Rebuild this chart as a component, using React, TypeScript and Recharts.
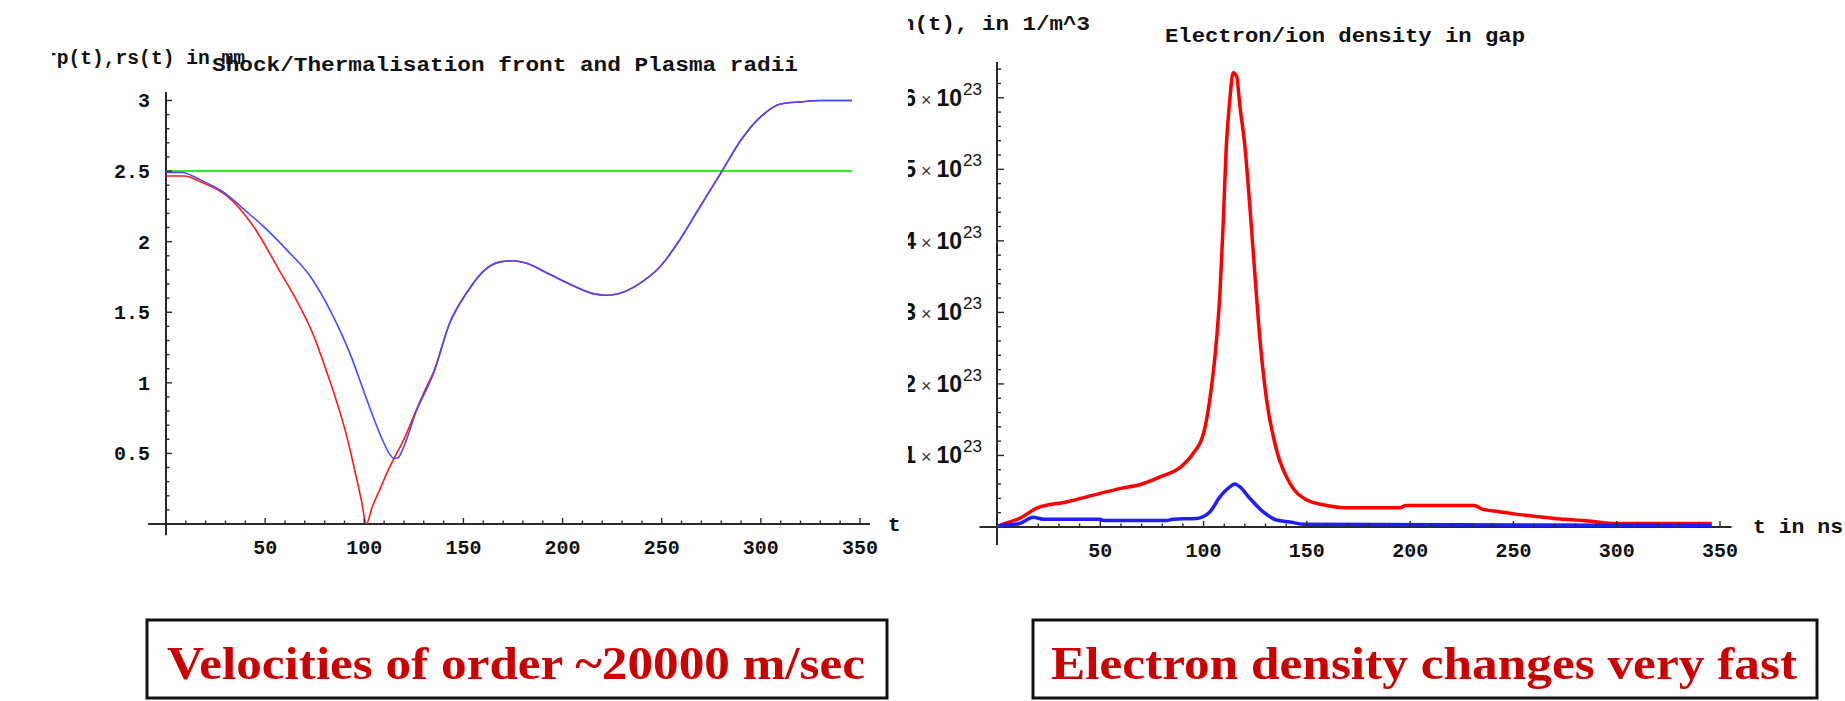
import React from 'react';
import { LineChart, Line, XAxis, YAxis, ReferenceLine } from 'recharts';

// ---- left panel: shock / thermalisation front and plasma radius (mm) vs t (ns)
const shockT = [0, 9, 18, 31, 44, 58, 66, 74, 80, 86, 91, 96, 98.5, 101, 104, 108, 112, 115, 120, 126, 130, 135, 143, 152, 160, 168, 175, 181, 194, 205, 216, 222, 229, 239, 249, 259, 269, 280, 290, 300, 310, 320, 330, 346];
const shockR = [2.465, 2.465, 2.42, 2.32, 2.11, 1.775, 1.58, 1.35, 1.12, 0.87, 0.63, 0.33, 0.17, 0.0, 0.12, 0.25, 0.38, 0.465, 0.6, 0.8, 0.93, 1.08, 1.42, 1.645, 1.79, 1.855, 1.865, 1.85, 1.765, 1.69, 1.63, 1.62, 1.635, 1.705, 1.82, 2.01, 2.24, 2.49, 2.72, 2.885, 2.975, 2.99, 3.0, 3.0];

const plasmaT = [0, 8, 17, 29, 40, 49, 61, 73, 84, 93, 100, 105, 110, 113, 115, 117, 120, 126, 135, 143, 152, 160, 168, 175, 181, 194, 205, 216, 222, 229, 239, 249, 259, 269, 280, 290, 300, 310, 320, 330, 346];
const plasmaR = [2.49, 2.49, 2.44, 2.35, 2.22, 2.11, 1.94, 1.75, 1.48, 1.2, 0.93, 0.74, 0.57, 0.49, 0.465, 0.47, 0.55, 0.79, 1.07, 1.42, 1.645, 1.79, 1.855, 1.865, 1.85, 1.765, 1.69, 1.63, 1.62, 1.635, 1.705, 1.82, 2.01, 2.24, 2.49, 2.72, 2.885, 2.975, 2.99, 3.0, 3.0];

const gapT = [0, 346];
const gapR = [2.5, 2.5];

// ---- right panel: densities in units of 10^23 m^-3
const electronT = [0, 2, 11, 19, 34, 50, 60, 69, 79, 89, 95, 100, 103, 105.5, 108, 109.5, 111, 112.7, 114.3, 116, 117.6, 120, 122.4, 124.8, 127.3, 130.5, 135.3, 141.8, 149.8, 158, 168, 195, 198, 231, 235, 243, 251, 259, 267, 275, 285, 300, 346];
const electronN = [0, 0.03, 0.12, 0.26, 0.354, 0.47, 0.54, 0.59, 0.7, 0.84, 1.03, 1.31, 1.78, 2.38, 3.31, 4.25, 5.32, 5.97, 6.35, 6.3, 5.88, 5.32, 4.48, 3.55, 2.62, 1.78, 1.08, 0.61, 0.38, 0.31, 0.27, 0.27, 0.3, 0.3, 0.25, 0.214, 0.18, 0.154, 0.13, 0.107, 0.088, 0.05, 0.05];

const ionT = [0, 2, 11, 17.6, 22.4, 50, 51.4, 82, 85.3, 96.6, 103, 107.9, 112.7, 115.1, 117.6, 122.4, 128.9, 135.3, 141.8, 148.2, 346];
const ionN = [0, 0.02, 0.05, 0.135, 0.11, 0.11, 0.09, 0.09, 0.11, 0.12, 0.21, 0.42, 0.56, 0.6, 0.56, 0.4, 0.21, 0.098, 0.07, 0.04, 0.02];

// tick positions (minor every 10 ns / 0.1 mm / 0.2e23, labelled ones picked in the renderers)
const tTicks = Array.from({ length: 35 }, (_, i) => (i + 1) * 10);
const rTicks = Array.from({ length: 30 }, (_, i) => (i + 1) / 10);
const nTicks = Array.from({ length: 32 }, (_, i) => ((i + 1) * 2) / 10);

const MONO = '"Liberation Mono", "DejaVu Sans Mono", monospace';
const SANS = '"Liberation Sans", Arial, sans-serif';
const SERIF = '"Liberation Serif", "Times New Roman", serif';
const AXIS = '#2a2a2a';

const pts = (ts: number[], vs: number[]) => ts.map((t, i) => ({ t, v: vs[i] }));

const TimeTick = (props: any) => {
  const { x, y, payload } = props;
  const major = payload.value % 50 === 0;
  return (
    <g>
      <line x1={x} x2={x} y1={y} y2={y - (major ? 6 : 3.5)} stroke={AXIS} strokeWidth={1.4} />
      {major && (
        <text x={x} y={y + 30} textAnchor="middle" fontFamily={MONO} fontWeight="bold" fontSize={20} fill="#111">
          {payload.value}
        </text>
      )}
    </g>
  );
};

const RadiusTick = (props: any) => {
  const { x, y, payload } = props;
  const v = payload.value;
  const major = Math.abs(v * 2 - Math.round(v * 2)) < 1e-6;
  return (
    <g>
      <line x1={x} x2={x + (major ? 6 : 3.5)} y1={y} y2={y} stroke={AXIS} strokeWidth={1.4} />
      {major && (
        <text x={x - 16} y={y + 7} textAnchor="end" fontFamily={MONO} fontWeight="bold" fontSize={20} fill="#111">
          {String(v)}
        </text>
      )}
    </g>
  );
};

const DensityTick = (props: any) => {
  const { x, y, payload } = props;
  const v = payload.value;
  const major = Math.abs(v - Math.round(v)) < 1e-6;
  return (
    <g>
      <line x1={x} x2={x + (major ? 7 : 4)} y1={y} y2={y} stroke={AXIS} strokeWidth={1.4} />
      {major && (
        <text x={x - 15} y={y + 8} textAnchor="end" fontFamily={SANS} fill="#111">
          <tspan fontWeight="bold" fontSize={23}>{Math.round(v)}</tspan>
          <tspan fontSize={18} dx={5} fill="#333">×</tspan>
          <tspan fontWeight="bold" fontSize={23} dx={5}>10</tspan>
          <tspan fontSize={17} dx={1} dy={-11}>23</tspan>
        </text>
      )}
    </g>
  );
};

const textStyle = { fontFamily: MONO, fontWeight: 'bold' as const, fontSize: 20, fill: '#111' };

function RadiiPanel() {
  return (
    <div style={{ position: 'absolute', left: 52, top: 0, width: 848, height: 600, overflow: 'hidden' }}>
      <div style={{ position: 'absolute', left: -52, top: 0 }}>
        <LineChart width={900} height={600} margin={{ top: 92, right: 40, bottom: 75, left: 165 }}>
          <XAxis type="number" dataKey="t" domain={[0, 350]} ticks={tTicks} interval={0} allowDataOverflow
            height={1} axisLine={false} tickLine={false} tickSize={0} tickMargin={0} tick={TimeTick} />
          <YAxis type="number" dataKey="v" domain={[0, 3.06]} ticks={rTicks} interval={0} allowDataOverflow
            width={1} axisLine={false} tickLine={false} tickSize={0} tickMargin={0} tick={RadiusTick} />
          <ReferenceLine segment={[{ x: -9, y: 0 }, { x: 355, y: 0 }]} ifOverflow="visible" stroke={AXIS} strokeWidth={2} />
          <ReferenceLine segment={[{ x: 0, y: -0.08 }, { x: 0, y: 3.06 }]} ifOverflow="visible" stroke={AXIS} strokeWidth={2} />
          <Line data={pts(gapT, gapR)} dataKey="v" type="linear" stroke="#2aee2a" strokeWidth={2} dot={false} isAnimationActive={false} />
          <Line data={pts(shockT, shockR)} dataKey="v" type="monotone" stroke="#ff1a1a" strokeWidth={1.6} dot={false} isAnimationActive={false} />
          <Line data={pts(plasmaT, plasmaR)} dataKey="v" type="monotone" stroke="#4a4aff" strokeWidth={1.6} dot={false} isAnimationActive={false} />
        </LineChart>
        <svg width={900} height={600} style={{ position: 'absolute', left: 0, top: 0 }}>
          <text x={45} y={64} textLength={200} lengthAdjust="spacingAndGlyphs" {...textStyle}>rp(t),rs(t) in mm</text>
          <text x={212} y={71} textLength={586} lengthAdjust="spacingAndGlyphs" {...textStyle}>Shock/Thermalisation front and Plasma radii</text>
          <text x={888} y={531} {...textStyle} fontSize={21}>t</text>
        </svg>
      </div>
    </div>
  );
}

function DensityPanel() {
  return (
    <div style={{ position: 'absolute', left: 908, top: 0, width: 937, height: 600, overflow: 'hidden' }}>
      <div style={{ position: 'absolute', left: -908, top: 0 }}>
        <LineChart width={1845} height={600} margin={{ top: 62, right: 125, bottom: 72, left: 996 }}>
          <XAxis type="number" dataKey="t" domain={[0, 350]} ticks={tTicks} interval={0} allowDataOverflow
            height={1} axisLine={false} tickLine={false} tickSize={0} tickMargin={0} tick={TimeTick} />
          <YAxis type="number" dataKey="v" domain={[0, 6.5]} ticks={nTicks} interval={0} allowDataOverflow
            width={1} axisLine={false} tickLine={false} tickSize={0} tickMargin={0} tick={DensityTick} />
          <ReferenceLine segment={[{ x: -8.5, y: 0 }, { x: 355.6, y: 0 }]} ifOverflow="visible" stroke={AXIS} strokeWidth={2} />
          <ReferenceLine segment={[{ x: 0, y: -0.25 }, { x: 0, y: 6.5 }]} ifOverflow="visible" stroke={AXIS} strokeWidth={2} />
          <Line data={pts(electronT, electronN)} dataKey="v" type="monotone" stroke="#ff0000" strokeWidth={3.5} dot={false} isAnimationActive={false} />
          <Line data={pts(ionT, ionN)} dataKey="v" type="monotone" stroke="#1e1eff" strokeWidth={3.5} dot={false} isAnimationActive={false} />
        </LineChart>
        <svg width={1845} height={600} style={{ position: 'absolute', left: 0, top: 0 }}>
          <text x={901} y={30} textLength={189} lengthAdjust="spacingAndGlyphs" {...textStyle}>n(t), in 1/m^3</text>
          <text x={1165} y={42} textLength={360} lengthAdjust="spacingAndGlyphs" {...textStyle}>Electron/ion density in gap</text>
          <text x={1753} y={533} textLength={90} lengthAdjust="spacingAndGlyphs" {...textStyle} fontSize={21}>t in ns</text>
        </svg>
      </div>
    </div>
  );
}

export default function App() {
  return (
    <div style={{ position: 'absolute', left: 0, top: 0, width: 1845, height: 701, background: '#fff', overflow: 'hidden' }}>
      <RadiiPanel />
      <DensityPanel />
      <svg width={1845} height={701} style={{ position: 'absolute', left: 0, top: 0 }}>
        <rect x={147} y={620} width={740} height={78} fill="#fff" stroke="#111" strokeWidth={3} />
        <text x={167} y={679} textLength={698} lengthAdjust="spacingAndGlyphs" fontFamily={SERIF} fontWeight="bold" fontSize={47} fill="#cc0000">
          Velocities of order ~20000 m/sec
        </text>
        <rect x={1033} y={620} width={784} height={78} fill="#fff" stroke="#111" strokeWidth={3} />
        <text x={1051} y={679} textLength={746} lengthAdjust="spacingAndGlyphs" fontFamily={SERIF} fontWeight="bold" fontSize={47} fill="#cc0000">
          Electron density changes very fast
        </text>
      </svg>
    </div>
  );
}
